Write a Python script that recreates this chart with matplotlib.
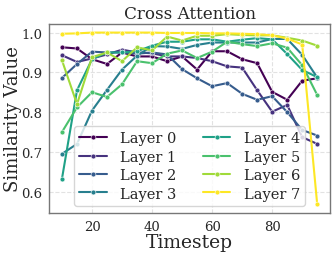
import matplotlib
matplotlib.use("Agg")
import matplotlib.pyplot as plt
import numpy as np
import seaborn as sns

timesteps = [10, 15, 20, 25, 30, 35, 40, 45, 50, 55, 60, 65, 70, 75, 80, 85, 90, 95]

layer0 = [0.963, 0.960, 0.933, 0.921, 0.950, 0.940, 0.940, 0.928, 0.940, 0.907, 0.953, 0.953, 0.933, 0.923, 0.851, 0.831, 0.879, 0.885]
layer1 = [0.943, 0.926, 0.935, 0.945, 0.957, 0.950, 0.948, 0.940, 0.940, 0.936, 0.928, 0.915, 0.912, 0.855, 0.801, 0.818, 0.737, 0.720]
layer2 = [0.886, 0.921, 0.952, 0.950, 0.950, 0.947, 0.950, 0.945, 0.908, 0.885, 0.865, 0.873, 0.846, 0.831, 0.840, 0.800, 0.755, 0.741]
layer3 = [0.695, 0.720, 0.804, 0.856, 0.907, 0.942, 0.966, 0.965, 0.959, 0.969, 0.975, 0.975, 0.975, 0.975, 0.984, 0.984, 0.944, 0.887]
layer4 = [0.633, 0.855, 0.933, 0.950, 0.950, 0.953, 0.967, 0.977, 0.977, 0.983, 0.983, 0.977, 0.982, 0.986, 0.983, 0.946, 0.906, 0.888]
layer5 = [0.750, 0.812, 0.850, 0.838, 0.870, 0.928, 0.923, 0.947, 0.955, 0.936, 0.952, 0.977, 0.971, 0.966, 0.973, 0.962, 0.918, 0.843]
layer6 = [0.930, 0.820, 0.938, 0.950, 0.928, 0.963, 0.955, 0.990, 0.980, 0.992, 0.992, 0.996, 0.994, 0.993, 0.993, 0.987, 0.980, 0.967]
layer7 = [0.997, 0.998, 1.000, 1.000, 1.000, 1.000, 1.000, 0.999, 0.999, 0.999, 0.998, 0.998, 0.997, 0.996, 0.993, 0.985, 0.970, 0.568]

layers = [layer0, layer1, layer2, layer3, layer4, layer5, layer6, layer7]

sns.set_style("whitegrid", {"grid.linestyle": "--", "grid.color": "#e2e2e2"})
plt.rcParams['font.family'] = ['DejaVu Serif']

colors = plt.cm.viridis(np.linspace(0, 1, len(layers)))

fig, ax = plt.subplots(figsize=(3.35, 2.55), dpi=100)
for i, vals in enumerate(layers):
    ax.plot(timesteps, vals, marker='o', markersize=3.5, linewidth=1.5,
            color=colors[i], markeredgecolor='white', markeredgewidth=0.4,
            label=f'Layer {i}')

title = ax.set_title('Cross Attention', fontsize=12.5, pad=4)
xlab = ax.set_xlabel('Timestep', fontsize=13.5, labelpad=0)
ylab = ax.set_ylabel('Similarity Value', fontsize=13.5)
ax.yaxis.set_label_coords(-0.098, 0.5)
ax.tick_params(labelsize=9.5, pad=1.5)
ax.set_xticks([20, 40, 60, 80])
ax.set_yticks([0.6, 0.7, 0.8, 0.9, 1.0])
for sp in ax.spines.values():
    sp.set_color('#777777')
    sp.set_linewidth(1.0)

ax.legend(ncol=2, loc='lower center', fontsize=10.5, frameon=True,
          handlelength=1.9, columnspacing=1.8, labelspacing=0.3,
          handletextpad=0.9, borderpad=0.35)

plt.subplots_adjust(left=0.147, right=0.985, bottom=0.161, top=0.902)

# fit label sizes to the pixel extents seen in the reference
r = fig.canvas.get_renderer()
w = title.get_window_extent(r).width
title.set_fontsize(12.5 * 133 / w)
w = xlab.get_window_extent(r).width
xlab.set_fontsize(13.5 * 87 / w)
h = ylab.get_window_extent(r).height
ylab.set_fontsize(13.5 * 144 / h)

plt.savefig('out.png', dpi=100)
